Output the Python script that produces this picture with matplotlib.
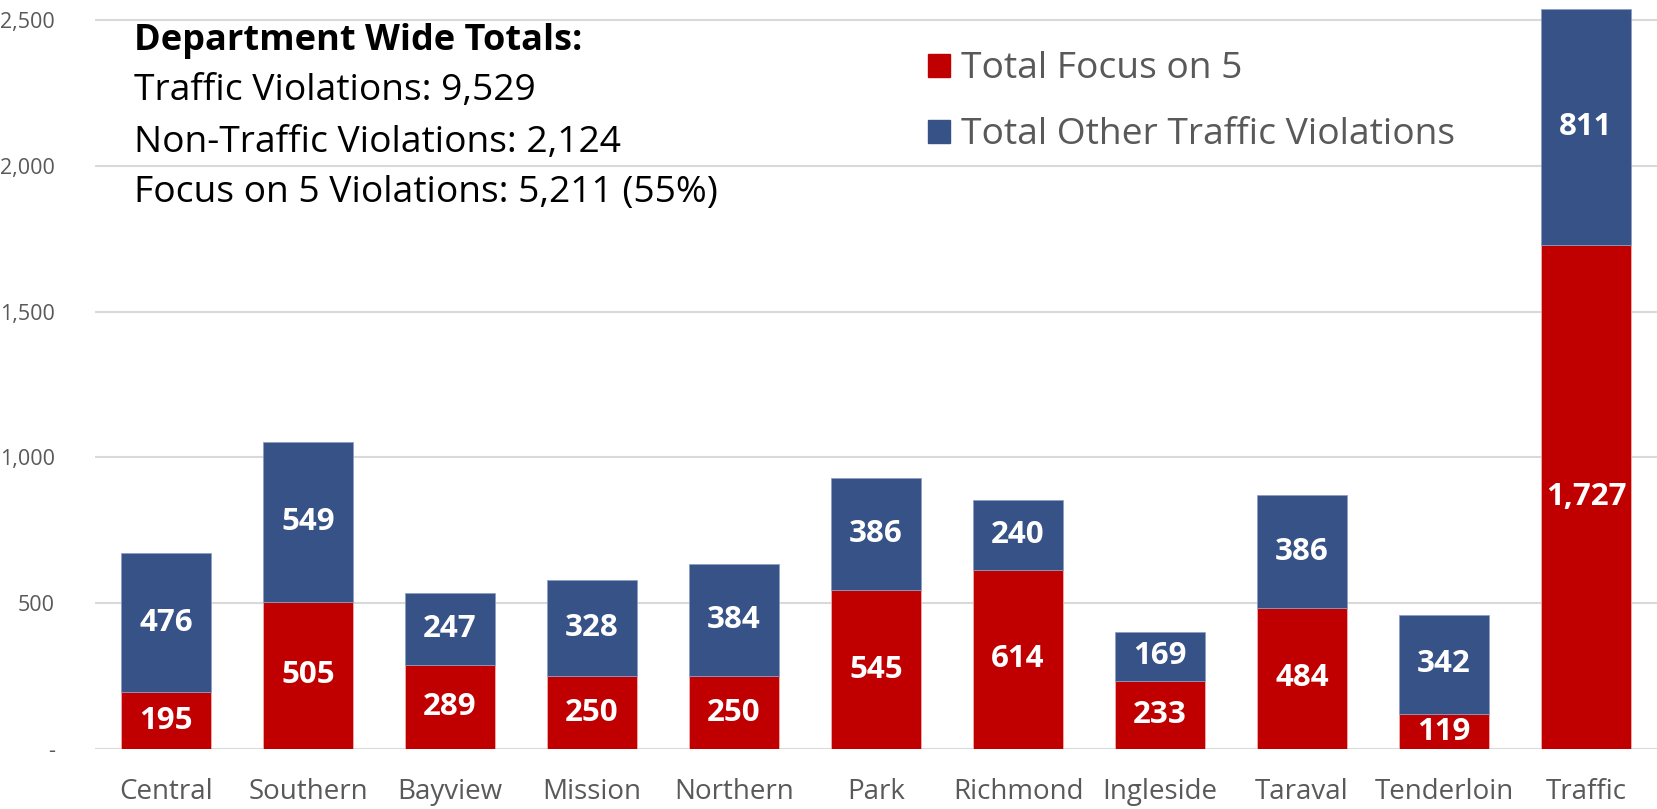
import matplotlib.pyplot as plt
import numpy as np
from matplotlib.patches import Patch

plt.rcParams['font.family'] = ['Open Sans', 'DejaVu Sans']

# data
stations = ['Central', 'Southern', 'Bayview', 'Mission', 'Northern', 'Park',
            'Richmond', 'Ingleside', 'Taraval', 'Tenderloin', 'Traffic']
focus5 = [195, 505, 289, 250, 250, 545, 614, 233, 484, 119, 1727]
other = [476, 549, 247, 328, 384, 386, 240, 169, 386, 342, 811]
yticks = [0, 500, 1000, 1500, 2000, 2500]
ytick_labels = ['-', '500', '1,000', '1,500', '2,000', '2,500']
totals_title = 'Department Wide Totals:'
totals_lines = ['Traffic Violations: 9,529',
                'Non-Traffic Violations: 2,124',
                'Focus on 5 Violations: 5,211 (55%)']

red = '#C00000'
blue = '#365287'
grey = '#595959'

fig = plt.figure(figsize=(16.58, 8.09), dpi=100)
ax = fig.add_axes([0.0573, 0.0742, 0.9421, 0.9258])

x = np.arange(len(stations))
w = 0.64
ax.bar(x, focus5, w, color=red, edgecolor='#F2B8B8', linewidth=0.5, zorder=3)
ax.bar(x, other, w, bottom=focus5, color=blue, edgecolor='#8A9CC4', linewidth=0.5, zorder=3)

for i in range(len(stations)):
    ax.text(x[i], focus5[i] / 2, f'{focus5[i]:,}', ha='center', va='center',
            color='white', fontsize=22.5, fontweight='bold', zorder=4)
    ax.text(x[i], focus5[i] + other[i] / 2, f'{other[i]:,}', ha='center', va='center',
            color='white', fontsize=22.5, fontweight='bold', zorder=4)

ax.set_xlim(-0.5, len(stations) - 0.5)
ax.set_ylim(0, 2569)
ax.set_yticks(yticks)
ax.set_yticklabels(ytick_labels)
ax.set_xticks(x)
ax.set_xticklabels(stations)
ax.tick_params(axis='y', length=0, pad=29, labelsize=15.5, labelcolor=grey)
ax.tick_params(axis='x', length=0, pad=21, labelsize=20, labelcolor=grey)
ax.grid(axis='y', color='#D9D9D9', linewidth=1.5, zorder=0)
for s in ax.spines.values():
    s.set_visible(False)

# department totals text block
ax.text(0.025, 0.933, totals_title, transform=ax.transAxes, fontsize=26,
        fontweight='bold', color='black', va='baseline')
for k, ypos in enumerate([0.866, 0.797, 0.730]):
    ax.text(0.025, ypos, totals_lines[k], transform=ax.transAxes,
            fontsize=26.8, color='black', va='baseline')

handles = [Patch(color=red), Patch(color=blue)]
ax.legend(handles, ['Total Focus on 5', 'Total Other Traffic Violations'],
          loc='upper left', bbox_to_anchor=(0.512, 0.976), frameon=False,
          fontsize=26.8, labelcolor=grey, handlelength=0.58, handleheight=0.58,
          handletextpad=0.3, labelspacing=0.8)

fig.savefig('out.png', dpi=100)
